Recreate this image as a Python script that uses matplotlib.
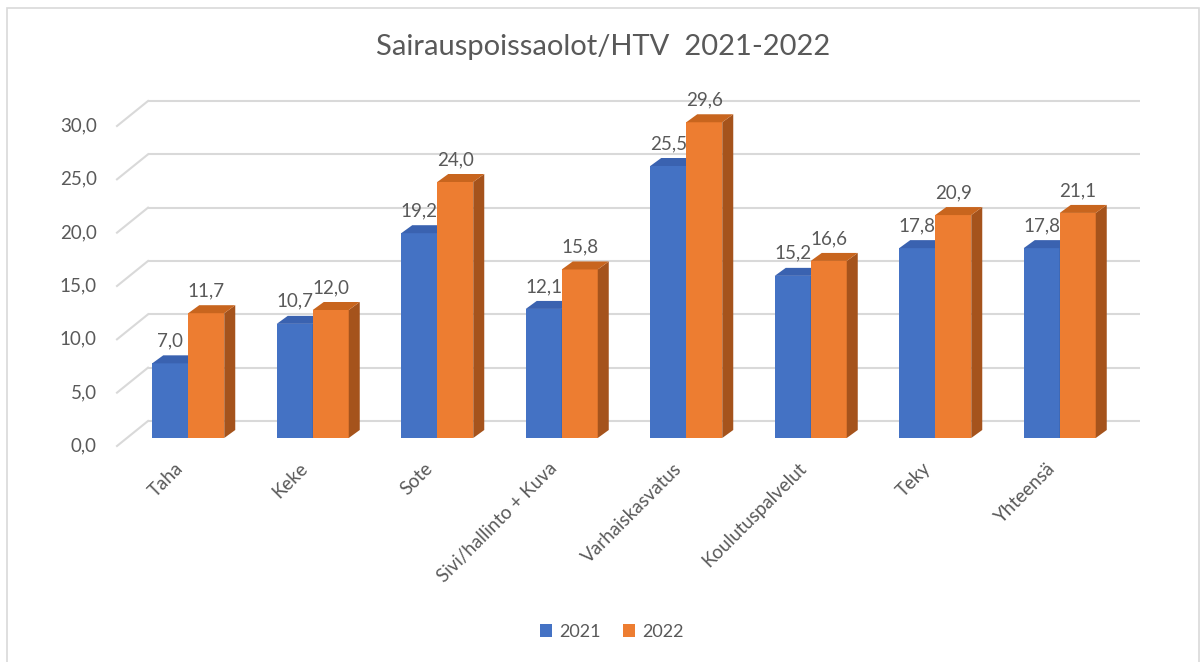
import matplotlib
matplotlib.use('Agg')
import matplotlib.pyplot as plt
import numpy as np
from matplotlib.patches import Polygon, Rectangle, Patch

plt.rcParams['font.family'] = ['Lato', 'DejaVu Sans']

categories = ['Taha', 'Keke', 'Sote', 'Sivi/hallinto + Kuva', 'Varhaiskasvatus',
              'Koulutuspalvelut', 'Teky', 'Yhteensä']
v2021 = [7.0, 10.7, 19.2, 12.1, 25.5, 15.2, 17.8, 17.8]
v2022 = [11.7, 12.0, 24.0, 15.8, 29.6, 16.6, 20.9, 21.1]
yticks = [0, 5, 10, 15, 20, 25, 30]

txt = '#595959'
grid = '#D9D9D9'
fs = 13.5

W, H = 1203, 662
fig = plt.figure(figsize=(W / 100, H / 100), dpi=100)
fig.patch.set_facecolor('white')
fig.patches.append(Rectangle((7 / W, -0.01), 1192 / W, 1 - 8 / H + 0.01,
                             transform=fig.transFigure, fill=False,
                             edgecolor=grid, linewidth=1.2))

# axes = front plane of the bars (pixel mapping)
ax = fig.add_axes([126 / W, 1 - 438 / H, 996 / W, 320 / H])
ax.set_xlim(-0.5, 7.5)
ax.set_ylim(0, 30)
ax.axis('off')

px = 996 / 8.0   # px per category
py = 320 / 30.0  # px per unit

# 3d offsets
ddx = 11 / px
ddy = 8 / py
back_y = 17 / py
front_y = -8 / py
wall_l = (148 - 126) / px - 0.5
wall_r = (1140 - 126) / px - 0.5
diag_l = (117 - 126) / px - 0.5

for v in yticks:
    ax.plot([wall_l, wall_r], [v + back_y, v + back_y], color=grid, lw=1.5,
            zorder=1, clip_on=False, solid_capstyle='butt')
    ax.plot([diag_l, wall_l], [v + front_y, v + back_y], color=grid, lw=1.5,
            zorder=1, clip_on=False)
    ax.text(-0.735, v + front_y, f'{v:.1f}'.replace('.', ','), ha='right',
            va='center', fontsize=fs, color=txt)

w = 36 / px
x = np.arange(len(categories))
series = [(v2021, -w / 2, '#4472C4', '#2F528F', '#3A62B0'),
          (v2022, w / 2, '#ED7D31', '#A5531C', '#C8651E')]

for i in range(len(categories)):
    for vals, off, cf, cs, ct in series:
        xc = x[i] + off
        h = vals[i]
        x0, x1 = xc - w / 2, xc + w / 2
        ax.bar(xc, h, width=w, color=cf, zorder=3, linewidth=0)
        ax.add_patch(Polygon([(x1, 0), (x1 + ddx, ddy), (x1 + ddx, h + ddy), (x1, h)],
                             closed=True, facecolor=cs, edgecolor='none', zorder=3,
                             clip_on=False))
        ax.add_patch(Polygon([(x0, h), (x0 + ddx, h + ddy), (x1 + ddx, h + ddy), (x1, h)],
                             closed=True, facecolor=ct, edgecolor='none', zorder=3,
                             clip_on=False))
        ax.text(xc, h + 14 / py, f'{h:.1f}'.replace('.', ','), ha='center',
                va='bottom', fontsize=fs, color=txt, zorder=5)

for i, c in enumerate(categories):
    ax.text(x[i] - 0.06, -2.6, c, rotation=45, ha='right', va='center',
            rotation_mode='anchor', fontsize=fs, color=txt)

fig.text(603 / W, 1 - 47 / H, 'Sairauspoissaolot/HTV  2021-2022', ha='center',
         va='center', fontsize=21, color=txt)

handles = [Patch(facecolor='#4472C4', label='2021'),
           Patch(facecolor='#ED7D31', label='2022')]
fig.legend(handles=handles, loc='center', bbox_to_anchor=(612 / W, 1 - 632 / H),
           ncol=2, frameon=False, fontsize=13, labelcolor=txt,
           handlelength=0.7, handleheight=0.7, handletextpad=0.4, columnspacing=1.2)

fig.savefig('out.png', dpi=100, facecolor='white')
